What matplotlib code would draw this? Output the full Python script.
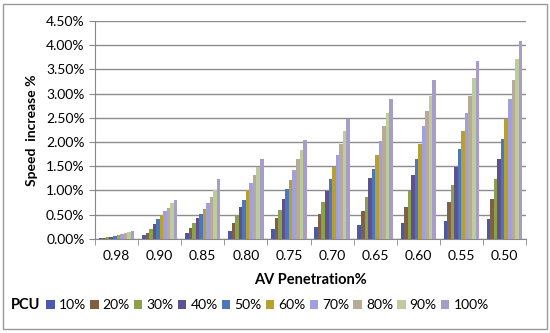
import matplotlib.pyplot as plt
import numpy as np

# x categories (AV penetration) and PCU series
penetration = ['0.98', '0.90', '0.85', '0.80', '0.75', '0.70', '0.65', '0.60', '0.55', '0.50']
pcu = ['10%', '20%', '30%', '40%', '50%', '60%', '70%', '80%', '90%', '100%']

# speed increase in %, one list per PCU level (across penetration groups)
pcu10 = [0.01, 0.07, 0.11, 0.17, 0.21, 0.24, 0.28, 0.33, 0.37, 0.41]
pcu20 = [0.02, 0.12, 0.22, 0.33, 0.42, 0.51, 0.58, 0.65, 0.75, 0.82]
pcu30 = [0.03, 0.21, 0.32, 0.49, 0.60, 0.75, 0.86, 0.98, 1.11, 1.23]
pcu40 = [0.04, 0.31, 0.42, 0.65, 0.82, 0.98, 1.25, 1.32, 1.49, 1.65]
pcu50 = [0.06, 0.40, 0.51, 0.81, 1.02, 1.23, 1.44, 1.65, 1.85, 2.06]
pcu60 = [0.08, 0.49, 0.62, 1.00, 1.22, 1.48, 1.74, 1.96, 2.22, 2.48]
pcu70 = [0.10, 0.57, 0.73, 1.16, 1.43, 1.74, 2.01, 2.32, 2.59, 2.88]
pcu80 = [0.11, 0.64, 0.86, 1.32, 1.64, 1.96, 2.32, 2.63, 2.96, 3.29]
pcu90 = [0.13, 0.73, 1.00, 1.48, 1.84, 2.22, 2.59, 2.96, 3.33, 3.71]
pcu100 = [0.16, 0.81, 1.23, 1.64, 2.05, 2.48, 2.88, 3.29, 3.67, 4.09]

series = [pcu10, pcu20, pcu30, pcu40, pcu50, pcu60, pcu70, pcu80, pcu90, pcu100]
colors = ['#4a5aa8', '#7f6040', '#8aa04a', '#5f5090', '#4a78b8',
          '#b8a030', '#a0a0e0', '#b8aa98', '#bccc9c', '#a89cc8']

plt.rcParams['font.family'] = ['Lato', 'DejaVu Sans']

fig = plt.figure(figsize=(5.5, 3.33), dpi=100)
ax = fig.add_axes([0.1727, 0.283, 0.7837, 0.654])

x = np.arange(len(penetration))
w = 0.082
for i, vals in enumerate(series):
    ax.bar(x + (i - 4.5) * w, vals, w, color=colors[i], label=pcu[i], zorder=3)

ax.set_xlim(-0.5, len(penetration) - 0.5)
ax.set_ylim(0, 4.5)
ax.set_yticks(np.arange(0, 4.51, 0.5))
ax.set_yticklabels(['%.2f%%' % v for v in np.arange(0, 4.51, 0.5)], fontsize=10)
ax.set_xticks(x)
ax.set_xticklabels(penetration, fontsize=10)
ax.set_xticks(np.arange(-0.5, len(penetration), 1), minor=True)
ax.tick_params(axis='x', which='major', length=0, pad=8)
ax.tick_params(axis='x', which='minor', length=4, color='#888888')
ax.tick_params(axis='y', length=4, color='#888888')

ax.grid(axis='y', color='#8c8c8c', linewidth=1, zorder=0)
for s in ['top', 'right']:
    ax.spines[s].set_visible(False)
for s in ['left', 'bottom']:
    ax.spines[s].set_color('#888888')

ax.set_xlabel('AV Penetration%', fontsize=10.5, fontweight='bold', labelpad=8)
ax.set_ylabel('Speed  increase %', fontsize=10, fontweight='bold', labelpad=6)

fig.text(0.02, 0.083, 'PCU', fontsize=10.5, fontweight='bold', va='center')
fig.legend(loc='center left', bbox_to_anchor=(0.074, 0.083), ncol=10,
           frameon=False, fontsize=10, handlelength=0.6, handleheight=0.6,
           handletextpad=0.3, columnspacing=0.3, borderaxespad=0)

border = plt.Rectangle((0.006, 0.012), 0.988, 0.976, transform=fig.transFigure,
                       fill=False, edgecolor='#999999', linewidth=1)
fig.patches.append(border)

fig.savefig('out.png', dpi=100)
